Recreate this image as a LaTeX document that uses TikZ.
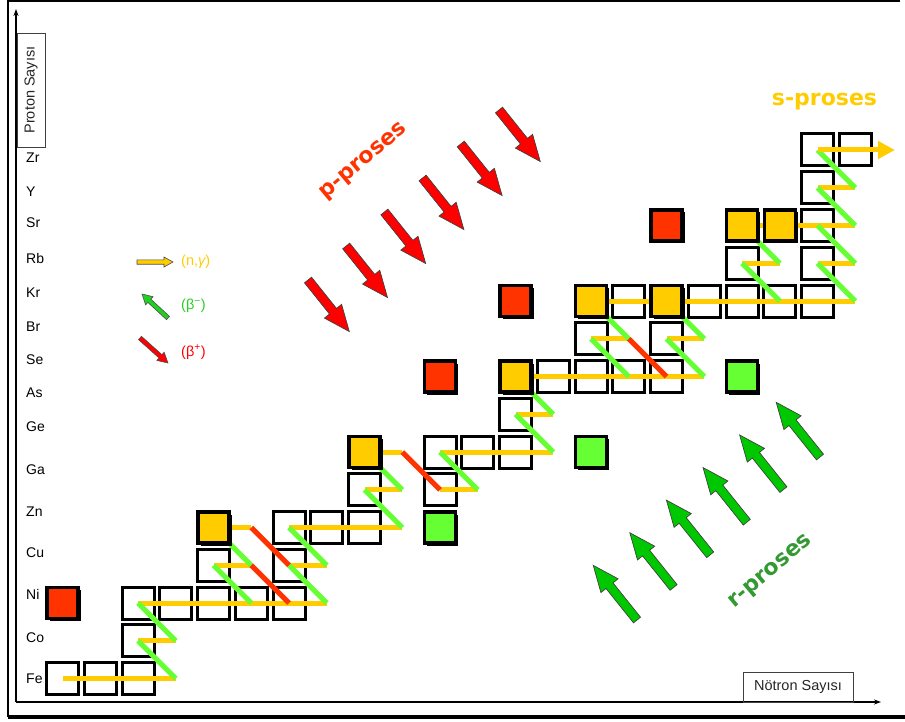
\documentclass[tikz,border=0pt]{standalone}
\usepackage{fontspec}
\setmainfont{Liberation Sans}
\newfontfamily\procfont{DejaVu Sans}
\usetikzlibrary{arrows.meta,shadows}

\definecolor{sgold}{HTML}{FFCC00}
\definecolor{lgreen}{HTML}{66FF33}
\definecolor{lred}{HTML}{FF3300}
\definecolor{rgreen}{HTML}{339933}
\definecolor{arrred}{HTML}{FF0000}
\definecolor{arrgreen}{HTML}{00C800}
\definecolor{leggreen}{HTML}{22D022}

% block arrow: tail, angle, length, shaft half width, head half width, head length, style
\newcommand{\blockarrow}[7]{%
  \begin{scope}[shift={#1}, rotate=#2]
    \draw[#7] (0,-#4) -- ({#3-#6},-#4) -- ({#3-#6},-#5) -- (#3,0)
      -- ({#3-#6},#5) -- ({#3-#6},#4) -- (0,#4) -- cycle;
  \end{scope}}

\tikzset{
  wbox/.style={draw=black, line width=3pt, minimum size=32pt, inner sep=0pt},
  cbox/.style={draw=black, line width=3.5pt, minimum size=31pt, inner sep=0pt,
    drop shadow={shadow xshift=2.5pt, shadow yshift=-2.5pt, fill=black, opacity=1}},
  nline/.style={sgold, line width=5pt},
  bmline/.style={lgreen, line width=5pt},
  bpline/.style={lred, line width=5pt},
  elem/.style={anchor=west, inner sep=0pt, text height=10pt, text depth=0pt,
    font=\fontsize{14}{16}\selectfont},
  axlabel/.style={draw=black!75, line width=0.8pt, inner sep=0pt, text=black!85,
    font=\fontsize{14.5}{16}\selectfont},
  proc/.style={font=\procfont\bfseries\fontsize{22}{24}\selectfont},
  legtext/.style={anchor=west, inner sep=0pt, font=\fontsize{14.5}{16}\selectfont},
  redarrow/.style={fill=arrred, draw=black!75, line width=0.7pt},
  greenarrow/.style={fill=arrgreen, draw=black!75, line width=0.7pt},
}

\begin{document}
\begin{tikzpicture}[x=1pt, y=1pt]
\useasboundingbox (0,0) rectangle (905,-722);

% outer frame
\draw[line width=2pt] (900,-1) -- (8,-1) -- (8,-717);
\draw[line width=3.5pt] (8,-717) -- (905,-717);

% axes
\coordinate (orig) at (16,-702);
\coordinate (ytip) at (16,-9);
\coordinate (xtip) at (881,-702);
\draw[line width=1.4pt, -{Stealth[length=7pt,width=5pt]}] (orig) -- (ytip);
\draw[line width=1.4pt, -{Stealth[length=7pt,width=5pt]}] (orig) -- (xtip);
\node[axlabel, minimum width=114pt, minimum height=28pt, rotate=90] (plab) at (31,-90) {Proton Sayısı};
\node[axlabel, minimum width=110pt, minimum height=30pt] (nlab) at (798,-687) {Nötron Sayısı};

% element names
\foreach \lab/\yy in {Zr/158, Y/192, Sr/223, Rb/259, Kr/292, Br/326, Se/359, As/392,
                      Ge/426, Ga/469, Zn/511, Cu/552, Ni/594, Co/637, Fe/678}
  {\node[elem] (el-\lab) at (26,-\yy) {\lab};}

% grid of nuclide positions (column = neutrons, row = protons)
\foreach \c in {0,...,21}
  {\foreach \r in {0,...,14}
    {\coordinate (g\c-\r) at ({62.5+37.75*\c},{-678.5+37.75*\r});}}

% plain nuclides
\foreach \c/\r in {0/0,1/0,2/0, 2/1, 2/2,3/2,4/2,5/2,6/2, 4/3,6/3, 6/4,7/4,8/4,
                   8/5,10/5, 10/6,11/6,12/6, 12/7, 13/8,14/8,15/8,16/8, 14/9,16/9,
                   15/10,17/10,18/10,19/10,20/10, 18/11,20/11, 20/12, 20/13, 20/14,21/14}
  {\node[wbox] (w\c-\r) at (g\c-\r) {};}

% neutron captures
\foreach \a/\b/\r in {0/3/0, 2/3/1, 2/7/2, 4/5/3, 6/7/3, 4/5/4, 6/9/4, 8/9/5, 8/9/6,
                      10/11/5, 10/13/6, 12/13/7, 12/17/8, 14/15/9, 16/17/9, 14/21/10,
                      18/19/11, 20/21/11, 18/21/12, 20/21/13}
  {\draw[nline] (g\a-\r) -- (g\b-\r);}

% beta-minus decays
\foreach \c/\r [evaluate=\c as \cc using int(\c-1), evaluate=\r as \rr using int(\r+1)]
    in {3/0,3/1,7/2,5/2,5/3,7/3,9/4,9/5,11/5,13/6,13/7,15/8,15/9,17/8,17/9,
        19/10,19/11,21/10,21/11,21/12,21/13}
  {\draw[bmline] (g\c-\r) -- (g\cc-\rr);}

% beta-plus decays
\foreach \c/\r [evaluate=\c as \cc using int(\c+1), evaluate=\r as \rr using int(\r+1)]
    in {5/3,5/2,9/5,15/8}
  {\draw[bpline] (g\c-\rr) -- (g\cc-\r);}

% s-process continues
\coordinate (send) at (895,-150);
\draw[nline, -{Triangle[length=17pt,width=17pt]}] (g20-14) -- (send);

% s-only, p-only and r-only nuclides
\foreach \c/\r in {4/4, 8/6, 12/8, 14/10, 16/10, 18/12, 19/12}
  {\node[cbox, fill=sgold] (s\c-\r) at (g\c-\r) {};}
\foreach \c/\r in {0/2, 10/8, 12/10, 16/12}
  {\node[cbox, fill=lred] (p\c-\r) at (g\c-\r) {};}
\foreach \c/\r in {10/4, 14/6, 18/8}
  {\node[cbox, fill=lgreen] (r\c-\r) at (g\c-\r) {};}

% legend
\blockarrow{(137,-262)}{0}{36}{2.2}{5}{9}{fill=sgold, draw=black!70, line width=0.6pt}
\blockarrow{(168,-318)}{137.3}{35.4}{2.2}{5.5}{10}{fill=leggreen, draw=black!70, line width=0.6pt}
\blockarrow{(140,-338)}{-41.8}{37.5}{2.2}{5.5}{10}{fill=arrred, draw=black!70, line width=0.6pt}
\node[legtext, text=sgold] (lng) at (181,-262) {(n,{\itshape γ})};
\node[legtext, text=leggreen] (lbm) at (181,-306) {(β\textsuperscript{−})};
\node[legtext, text=arrred] (lbp) at (181,-352) {(β\textsuperscript{+})};

% p-process arrows
\foreach \k in {0,...,5}
  {\blockarrow{({308+38.2*\k},{-280+34*\k})}{-51.3}{66}{4.5}{11}{26}{redarrow}}

% r-process arrows
\foreach \k in {0,...,5}
  {\blockarrow{({637+36.6*\k},{-620+32.6*\k})}{128.7}{70}{4.5}{11}{26}{greenarrow}}

% process names
\node[proc, text=sgold] (sproc) at (824.5,-102) {s-proses};
\node[proc, text=lred, rotate=40] (pproc) at (364,-162) {p-proses};
\node[proc, text=rgreen, rotate=40] (rproc) at (771,-572) {r-proses};

\end{tikzpicture}
\end{document}
